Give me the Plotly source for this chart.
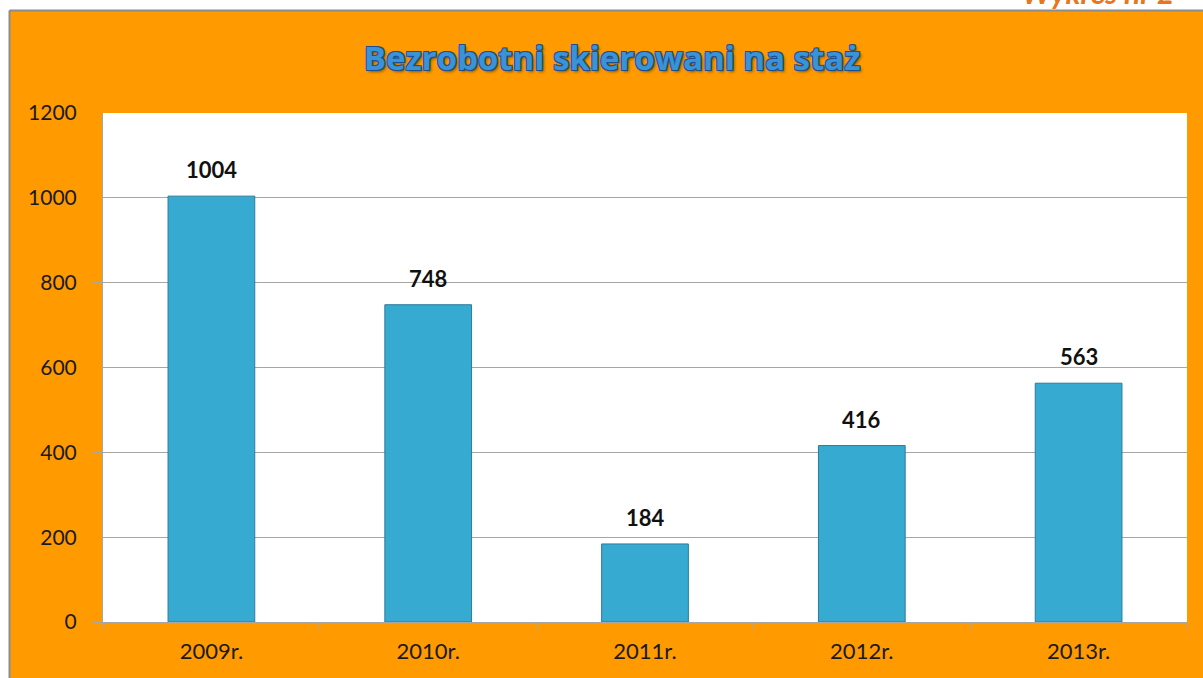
import plotly.graph_objects as go

categories = ["2009r.", "2010r.", "2011r.", "2012r.", "2013r."]
values = [1004, 748, 184, 416, 563]
y_ticks = [0, 200, 400, 600, 800, 1000, 1200]
title_text = "Bezrobotni skierowani na staż"
corner_text = "Wykres nr 2"

W, H = 1203, 678
L, R, T, B = 103, 16, 113, 56
pw, ph = W - L - R, H - T - B

def px_x(p):
    return (p - L) / pw

def px_y(q):
    return (H - B - q) / ph

ORANGE = "#FF9A00"
GRID = "#A6A6A6"
TXT = "#1A1A1A"

fig = go.Figure()
fig.add_trace(go.Bar(
    x=categories, y=values, width=0.4,
    marker=dict(color="#37AAD1", line=dict(color="#2A7C9A", width=1)),
    hoverinfo="x+y",
))

for c, v in zip(categories, values):
    fig.add_annotation(x=c, y=v, text=f"<b>{v}</b>", showarrow=False,
                       yanchor="bottom", yshift=11,
                       font=dict(family="Lato, Open Sans, sans-serif", size=22, color="#111111"))

shapes = [
    dict(type="rect", xref="paper", yref="paper", x0=px_x(0), x1=px_x(W), y0=px_y(0), y1=px_y(10.5),
         fillcolor="white", line=dict(width=0), layer="below"),
    dict(type="rect", xref="paper", yref="paper", x0=px_x(0), x1=px_x(9), y0=px_y(0), y1=px_y(H),
         fillcolor="white", line=dict(width=0), layer="below"),
    dict(type="line", xref="paper", yref="paper", x0=px_x(9.5), x1=px_x(W), y0=px_y(10.5), y1=px_y(10.5),
         line=dict(color="#8C8C8C", width=2)),
    dict(type="line", xref="paper", yref="paper", x0=px_x(9.5), x1=px_x(9.5), y0=px_y(10.5), y1=px_y(H),
         line=dict(color="#8C8C8C", width=2)),
]

fig.add_annotation(xref="paper", yref="paper", x=px_x(1020), y=px_y(12), xanchor="left", yanchor="bottom",
                   text=f"<b><i>{corner_text}</i></b>", showarrow=False,
                   font=dict(family="Lato, sans-serif", size=30, color="#E8761A"))

outline = "#1F4E8C"
fig.update_layout(
    width=W, height=H,
    margin=dict(l=L, r=R, t=T, b=B),
    paper_bgcolor=ORANGE, plot_bgcolor="white",
    showlegend=False,
    shapes=shapes,
    title=dict(
        text=f"<b>{title_text}</b>", x=612 / W, xanchor="center", xref="container",
        y=1 - 58 / H, yanchor="middle", yref="container",
        font=dict(family="Open Sans, Lato, sans-serif", size=33, color="#3A93D6",
                  shadow=f"-1px -1px 0 {outline}, 1px -1px 0 {outline}, -1px 1px 0 {outline}, 1px 1px 0 {outline}, 2px 2px 3px #8A5A00"),
    ),
    xaxis=dict(
        type="category", showgrid=False, showline=True, linecolor=GRID, linewidth=1,
        ticks="outside", tickson="boundaries", ticklen=7, tickcolor=GRID,
        ticklabelstandoff=10,
        tickfont=dict(family="Lato, Open Sans, sans-serif", size=22, color=TXT),
    ),
    yaxis=dict(
        range=[0, 1200], tickvals=y_ticks, showgrid=True, gridcolor=GRID, gridwidth=1,
        showline=True, linecolor=GRID, linewidth=1, zeroline=False,
        ticks="outside", ticklen=9, tickcolor=GRID, ticklabelstandoff=12,
        tickfont=dict(family="Lato, Open Sans, sans-serif", size=21, color=TXT),
    ),
    bargap=0.6,
)

fig.write_html("out.html", config={"displayModeBar": False},
               post_script="document.body.style.margin='0';document.body.style.overflow='hidden';")
